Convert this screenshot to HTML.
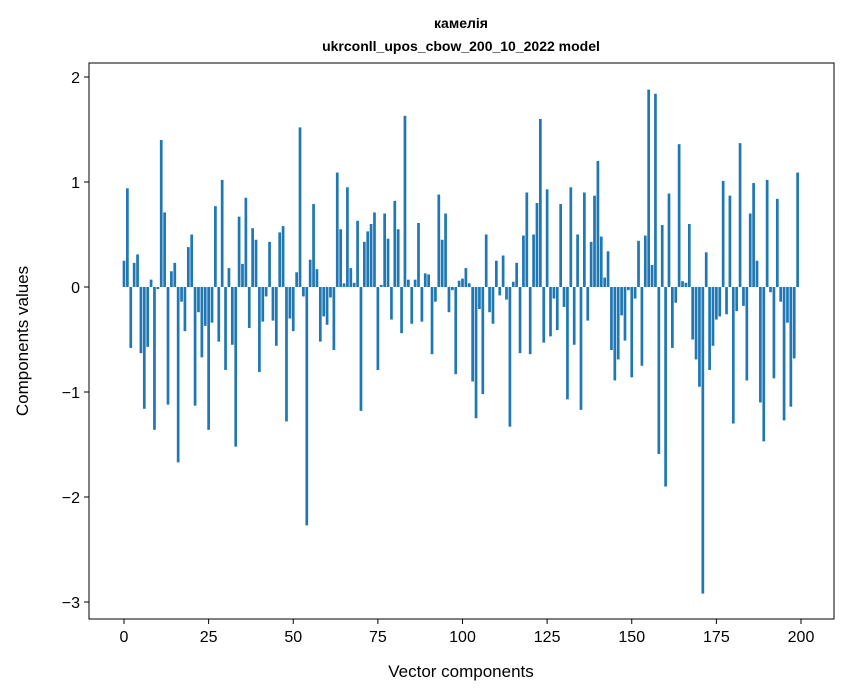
<!DOCTYPE html>
<html><head><meta charset="utf-8"><style>
body{margin:0;background:#fff;}
svg{display:block;font-family:"Liberation Sans","DejaVu Sans",sans-serif;}
</style></head><body>
<svg id="chart" width="847" height="696">
<text x="461" y="28" text-anchor="middle" font-size="14" font-weight="bold">камелія</text>
<text x="461" y="51" text-anchor="middle" font-size="14" font-weight="bold">ukrconll_upos_cbow_200_10_2022 model</text>
<text x="461" y="677" text-anchor="middle" font-size="17">Vector components</text>
<text transform="translate(28,341) rotate(-90)" text-anchor="middle" font-size="17">Components values</text>
<g id="bars"></g>
<g id="axes"></g>
</svg>
<script>
const values = [0.25,0.94,-0.58,0.23,0.31,-0.63,-1.16,-0.57,0.07,-1.36,-0.02,1.40,0.71,-1.12,0.15,0.23,-1.67,-0.14,-0.42,0.38,0.50,-1.13,-0.24,-0.67,-0.37,-1.36,-0.34,0.77,-0.52,1.02,-0.79,0.18,-0.55,-1.52,0.67,0.22,0.85,-0.39,0.56,0.45,
-0.81,-0.33,-0.09,0.43,-0.32,-0.56,0.52,0.58,-1.28,-0.30,-0.42,0.14,1.52,-0.09,-2.27,0.26,0.79,0.17,-0.52,-0.28,-0.36,-0.10,-0.60,1.09,0.55,0.035,0.95,0.18,0.04,0.63,-1.18,0.43,0.53,0.60,0.71,-0.79,0.02,0.70,0.46,-0.31,
0.82,0.55,-0.44,1.63,0.07,-0.35,0.07,0.61,-0.33,0.13,0.12,-0.64,-0.14,0.88,0.45,0.70,-0.24,-0.03,-0.83,0.06,0.08,0.18,0.035,-0.90,-1.25,-0.21,-1.02,0.50,-0.24,-0.35,0.25,-0.08,0.30,-0.12,-1.33,0.05,0.23,-0.63,0.49,0.90,
-0.64,0.50,0.80,1.60,-0.53,0.93,-0.47,-0.11,-0.41,0.79,-0.19,-1.07,0.95,-0.55,0.50,-1.17,0.90,-0.32,0.43,0.87,1.20,0.48,0.09,0.34,-0.60,-0.89,-0.69,-0.27,-0.51,-0.03,-0.86,-0.11,0.44,-0.75,0.49,1.88,0.21,1.84,-1.59,0.59,
-1.90,0.89,-0.58,-0.15,1.36,0.056,0.04,0.60,-0.50,-0.69,-0.95,-2.92,0.33,-0.79,-0.56,-0.31,-0.28,1.01,-0.26,0.87,-1.30,-0.23,1.37,-0.18,-0.89,0.70,0.99,0.25,-1.10,-1.47,1.02,-0.05,-0.87,0.84,-0.14,-1.27,-0.34,-1.14,-0.68,1.09];
const xTicks = [0,25,50,75,100,125,150,175,200];
const yTicks = [-3,-2,-1,0,1,2];
const NS="http://www.w3.org/2000/svg";
const L=89,R=834,T=63,B=619;
const xs=v=>124+v*(801-124)/200;
const ys=v=>287-v*105;
const bw=0.8*(801-124)/200;
const bars=document.getElementById('bars'),axes=document.getElementById('axes');
function mk(tag,attrs,parent){const e=document.createElementNS(NS,tag);for(const k in attrs)e.setAttribute(k,attrs[k]);parent.appendChild(e);return e;}
values.forEach((v,i)=>{
  const r=mk('rect',{x:xs(i)-bw/2,y:Math.min(ys(v),ys(0)),width:bw,height:Math.abs(ys(v)-ys(0)),fill:'#1f77b4'},bars);
  
  
});
const frame=mk('rect',{x:L,y:T,width:R-L,height:B-T,fill:'none',stroke:'#000','stroke-width':1},axes);


xTicks.forEach(t=>{
  mk('line',{x1:xs(t),x2:xs(t),y1:B,y2:B+5,stroke:'#000'},axes);
  const tx=mk('text',{x:xs(t),y:B+23,'text-anchor':'middle','font-size':16},axes);
  tx.textContent=String(t);
  
  
});
yTicks.forEach(t=>{
  mk('line',{x1:L-5,x2:L,y1:ys(t),y2:ys(t),stroke:'#000'},axes);
  const tx=mk('text',{x:L-9,y:ys(t)+6,'text-anchor':'end','font-size':16},axes);
  tx.textContent=t<0?'\u2212'+Math.abs(t):String(t);
  
  
});
</script>
</body></html>
